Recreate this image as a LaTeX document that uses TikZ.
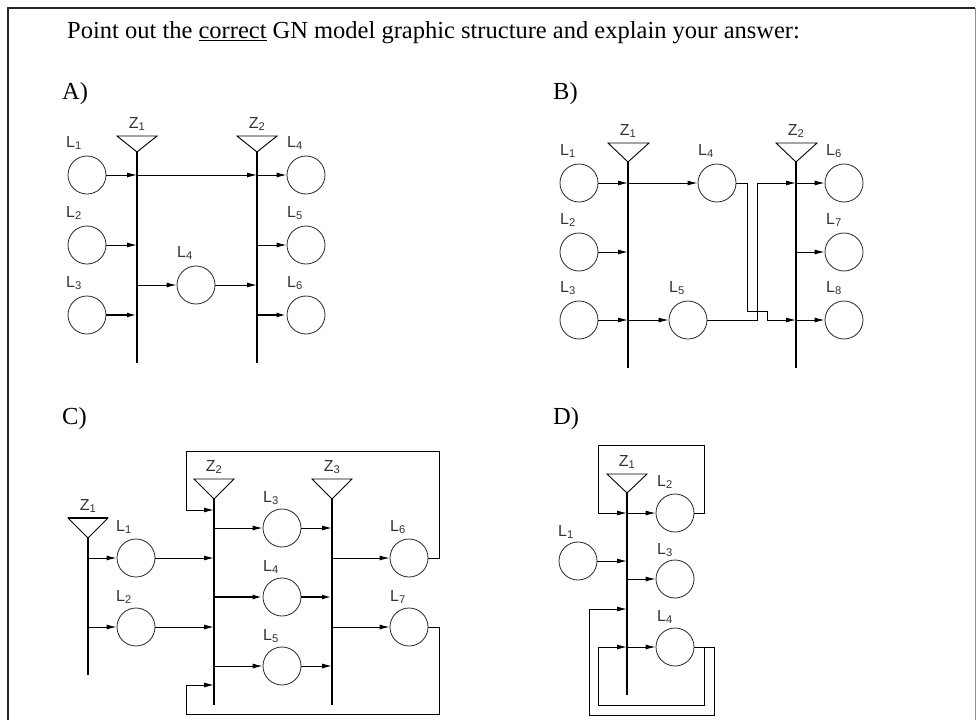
\documentclass[tikz,border=0pt]{standalone}
\usepackage{fontspec}
\setmainfont{Liberation Serif}
\setsansfont{Liberation Sans}
\usetikzlibrary{arrows.meta}
\begin{document}
\begin{tikzpicture}[x=1pt,y=-1pt,
  place/.style={circle, draw=black!85, line width=0.8pt, minimum size=38pt, inner sep=0pt},
  lab/.style={font=\sffamily\fontsize{16}{16}\selectfont, text=black!80, inner sep=0pt},
  head/.style={font=\fontsize{24.5}{24.5}\selectfont, inner sep=0pt, anchor=west},
  arr/.style={-{Latex[length=10pt,width=5pt]}, line width=1pt},
  heavy/.style={line width=1.8pt},
  bus/.style={line width=2.8pt},
  tbus/.style={line width=1.3pt},
  trans/.style={line width=0.9pt}]
\useasboundingbox (0,0) rectangle (976,720);
% frame
\draw[line width=2pt, black!85] (8,720) -- (8,8) -- (975,8);
\draw[line width=1pt, black!45] (975,8) -- (975,720);
% title
\node[head] (title) at (67,33) {Point out the \underline{correct} GN model graphic structure and explain your answer:};

% ================= A =================
\node[head] (hA) at (62,94) {A)};
\coordinate (AZ1) at (137,152); \coordinate (AZ1b) at (137,363);
\coordinate (AZ2) at (257,152); \coordinate (AZ2b) at (257,363);
\draw[trans] (AZ1) -- ++(-20,-16) -- ++(40,0) -- cycle;
\draw[trans] (AZ2) -- ++(-20,-16) -- ++(40,0) -- cycle;
\draw[bus] (AZ1) -- (AZ1b);
\draw[bus] (AZ2) -- (AZ2b);
\node[lab] (tAZ1) at (137,124) {Z\textsubscript{1}};
\node[lab] (tAZ2) at (257,124) {Z\textsubscript{2}};
\node[place] (A1) at (87,175) {};
\node[place] (A2) at (87,245) {};
\node[place] (A3) at (87,315) {};
\node[place] (A4m) at (196,285) {};
\node[place] (A4) at (306,175) {};
\node[place] (A5) at (306,245) {};
\node[place] (A6) at (306,315) {};
\node[lab] (tA1) at (74,143) {L\textsubscript{1}};
\node[lab] (tA2) at (74,213) {L\textsubscript{2}};
\node[lab] (tA3) at (74,283) {L\textsubscript{3}};
\node[lab] (tA4m) at (185,253) {L\textsubscript{4}};
\node[lab] (tA4) at (295,143) {L\textsubscript{4}};
\node[lab] (tA5) at (295,213) {L\textsubscript{5}};
\node[lab] (tA6) at (295,283) {L\textsubscript{6}};
\draw[arr] (A1) -- (A1 -| AZ1);
\draw[arr] (A1 -| AZ1) -- (A1 -| AZ2);
\draw[arr] (A1 -| AZ2) -- (A4);
\draw[arr] (A2) -- (A2 -| AZ1);
\draw[arr, heavy] (A3) -- (A3 -| AZ1);
\draw[arr] (A4m -| AZ1) -- (A4m);
\draw[arr] (A4m) -- (A4m -| AZ2);
\draw[arr] (A5 -| AZ2) -- (A5);
\draw[arr, heavy] (A6 -| AZ2) -- (A6);

% ================= B =================
\node[head] (hB) at (553,94) {B)};
\coordinate (BZ1) at (628,162); \coordinate (BZ1b) at (628,368);
\coordinate (BZ2) at (796,162); \coordinate (BZ2b) at (796,368);
\draw[trans] (BZ1) -- ++(-20,-19) -- ++(41,0) -- cycle;
\draw[trans] (BZ2) -- ++(-20,-19) -- ++(41,0) -- cycle;
\draw[bus] (BZ1) -- (BZ1b);
\draw[tbus] (BZ2) -- (BZ2b);
\node[lab] (tBZ1) at (628,131) {Z\textsubscript{1}};
\node[lab] (tBZ2) at (796,131) {Z\textsubscript{2}};
\node[place] (B1) at (579,183) {};
\node[place] (B2) at (579,252) {};
\node[place] (B3) at (579,320) {};
\node[place] (B4) at (717,183) {};
\node[place] (B5) at (688,320) {};
\node[place] (B6) at (844,183) {};
\node[place] (B7) at (844,252) {};
\node[place] (B8) at (844,320) {};
\node[lab] (tB1) at (568,151) {L\textsubscript{1}};
\node[lab] (tB2) at (568,220) {L\textsubscript{2}};
\node[lab] (tB3) at (568,288) {L\textsubscript{3}};
\node[lab] (tB4) at (706,151) {L\textsubscript{4}};
\node[lab] (tB5) at (677,288) {L\textsubscript{5}};
\node[lab] (tB6) at (834,151) {L\textsubscript{6}};
\node[lab] (tB7) at (834,220) {L\textsubscript{7}};
\node[lab] (tB8) at (834,288) {L\textsubscript{8}};
\draw[arr] (B1) -- (B1 -| BZ1);
\draw[arr] (B1 -| BZ1) -- (B4);
\draw[arr] (B2) -- (B2 -| BZ1);
\draw[arr] (B3) -- (B3 -| BZ1);
\draw[arr] (B3 -| BZ1) -- (B5);
\draw[arr] (B4.east) -- (747,183) -- (747,311) -- (767,311) -- (767,320) -- (B8 -| BZ2);
\draw[arr] (B5.east) -- (757,320) -- (757,183) -- (B6 -| BZ2);
\draw[arr] (B6 -| BZ2) -- (B6);
\draw[arr] (B7 -| BZ2) -- (B7);
\draw[arr] (B8 -| BZ2) -- (B8);

% ================= C =================
\node[head] (hC) at (62,419) {C)};
\coordinate (CZ1) at (88,538); \coordinate (CZ1b) at (88,675);
\coordinate (CZ2) at (214,499); \coordinate (CZ2b) at (214,705);
\coordinate (CZ3) at (332,499); \coordinate (CZ3b) at (332,705);
\draw[trans] (CZ1) -- ++(-20,-20) -- ++(40,0) -- cycle;
\draw[line width=2pt] (68,518) -- (108,518);
\draw[trans] (CZ2) -- ++(-20,-20) -- ++(40,0) -- cycle;
\draw[trans] (CZ3) -- ++(-20,-20) -- ++(40,0) -- cycle;
\draw[tbus] (CZ1) -- (CZ1b);
\draw[tbus] (CZ2) -- (CZ2b);
\draw[tbus] (CZ3) -- (CZ3b);
\node[lab] (tCZ1) at (88,506) {Z\textsubscript{1}};
\node[lab] (tCZ2) at (214,467) {Z\textsubscript{2}};
\node[lab] (tCZ3) at (332,467) {Z\textsubscript{3}};
\node[place] (C1) at (136,558) {};
\node[place] (C2) at (136,627) {};
\node[place] (C3) at (282,528) {};
\node[place] (C4) at (282,597) {};
\node[place] (C5) at (282,666) {};
\node[place] (C6) at (409,558) {};
\node[place] (C7) at (409,627) {};
\node[lab] (tC1) at (124,527) {L\textsubscript{1}};
\node[lab] (tC2) at (124,597) {L\textsubscript{2}};
\node[lab] (tC3) at (271,498) {L\textsubscript{3}};
\node[lab] (tC4) at (271,567) {L\textsubscript{4}};
\node[lab] (tC5) at (271,636) {L\textsubscript{5}};
\node[lab] (tC6) at (398,527) {L\textsubscript{6}};
\node[lab] (tC7) at (398,597) {L\textsubscript{7}};
\draw[arr] (C1 -| CZ1) -- (C1);
\draw[arr] (C1) -- (C1 -| CZ2);
\draw[arr] (C2 -| CZ1) -- (C2);
\draw[arr] (C2) -- (C2 -| CZ2);
\draw[arr] (C3 -| CZ2) -- (C3);
\draw[arr] (C3) -- (C3 -| CZ3);
\draw[arr, heavy] (C4 -| CZ2) -- (C4);
\draw[arr, heavy] (C4) -- (C4 -| CZ3);
\draw[arr] (C5 -| CZ2) -- (C5);
\draw[arr] (C5) -- (C5 -| CZ3);
\draw[arr] (C6 -| CZ3) -- (C6);
\draw[arr] (C7 -| CZ3) -- (C7);
\draw[arr] (C6.east) -- (439,558) -- (439,451) -- (186,451) -- (186,510) -- (214,510);
\draw[arr] (C7.east) -- (439,627) -- (439,714) -- (186,714) -- (186,685) -- (214,685);

% ================= D =================
\node[head] (hD) at (553,419) {D)};
\coordinate (DZ1) at (627,493); \coordinate (DZ1b) at (627,695);
\draw[trans] (DZ1) -- ++(-20,-19) -- ++(40,0) -- cycle;
\draw[tbus] (DZ1) -- (DZ1b);
\node[lab] (tDZ1) at (627,462) {Z\textsubscript{1}};
\node[place] (D1) at (578,561) {};
\node[place] (D2) at (675,513) {};
\node[place] (D3) at (675,579) {};
\node[place] (D4) at (675,647) {};
\node[lab] (tD1) at (566,532) {L\textsubscript{1}};
\node[lab] (tD2) at (665,482) {L\textsubscript{2}};
\node[lab] (tD3) at (665,550) {L\textsubscript{3}};
\node[lab] (tD4) at (665,617) {L\textsubscript{4}};
\draw[arr] (D2 -| DZ1) -- (D2);
\draw[arr] (D2.east) -- (704,513) -- (704,445) -- (598,445) -- (598,513) -- (D2 -| DZ1);
\draw[arr] (D1) -- (D1 -| DZ1);
\draw[arr] (D3 -| DZ1) -- (D3);
\draw[arr] (D4 -| DZ1) -- (D4);
\draw[arr] (D4.east) -- (714,647) -- (714,715) -- (589,715) -- (589,609) -- (627,609);
\draw[arr] (704,647) -- (704,705) -- (598,705) -- (598,647) -- (D4 -| DZ1);
\end{tikzpicture}
\end{document}
